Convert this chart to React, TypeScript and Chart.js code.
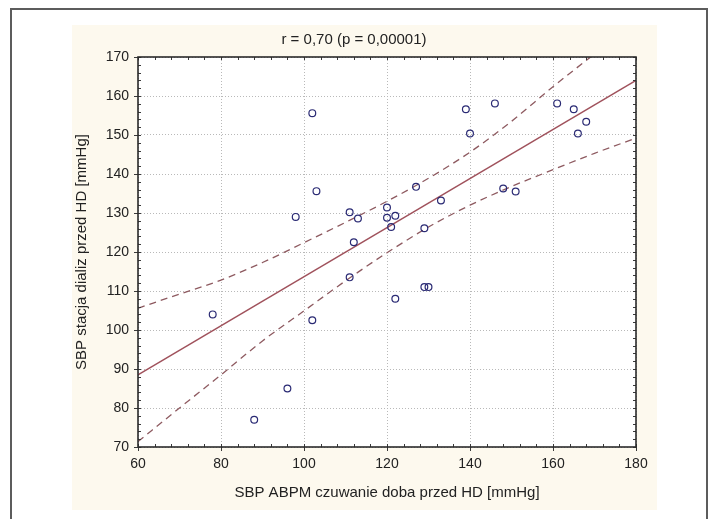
import React, { useEffect, useRef } from "react";
import { Chart, registerables } from "chart.js";

Chart.register(...registerables);

const titleText = "r = 0,70 (p = 0,00001)";
const xAxisTitle = "SBP ABPM czuwanie doba przed HD [mmHg]";
const yAxisTitle = "SBP stacja dializ przed HD [mmHg]";

// Observations
const sbpAbpm = [78, 88, 96, 102, 111, 122, 129, 130, 98, 102, 103, 111, 113, 112, 120, 120, 122, 121, 127, 133, 129, 139, 140, 146, 148, 151, 161, 165, 166, 168];
const sbpStation = [104, 77, 85, 102.5, 113.5, 108, 111, 111, 129, 155.6, 135.6, 130.2, 128.6, 122.5, 131.4, 128.8, 129.3, 126.4, 136.7, 133.2, 126.1, 156.6, 150.4, 158.1, 136.3, 135.5, 158.1, 156.6, 150.4, 153.4];

// Regression line (end points)
const regX = [60, 180];
const regY = [88.5, 164];

// 95% confidence band
const bandX = [60, 70, 80, 90, 100, 110, 120, 130, 140, 150, 160, 170, 180];
const bandUpper = [105.6, 109.2, 112.8, 117.3, 122.4, 127.6, 133.0, 138.9, 145.6, 153.5, 162.4, 170.8, 179.5];
const bandLower = [71.4, 80.0, 88.5, 97.2, 104.9, 112.6, 119.8, 126.4, 132.0, 136.8, 141.1, 145.3, 149.2];

// Axis ticks
const xTicks = [60, 80, 100, 120, 140, 160, 180];
const yTicks = [70, 80, 90, 100, 110, 120, 130, 140, 150, 160, 170];
const xMinorStep = 4;
const yMinorStep = 2;

const FONT = "'Liberation Sans', Arial, Helvetica, sans-serif";
const LINE_COLOR = "#a0525c";
const DASH_COLOR = "#8e5a60";
const POINT_COLOR = "#2a2a74";

const zip = (xs: number[], ys: number[]) => xs.map((x, i) => ({ x, y: ys[i] }));

const bgPlugin = {
  id: "bgPlugin",
  beforeDraw(chart: any) {
    const { ctx, chartArea } = chart;
    ctx.save();
    ctx.fillStyle = "#fdf9ee";
    ctx.fillRect(0, 0, chart.width, chart.height);
    ctx.fillStyle = "#ffffff";
    ctx.fillRect(chartArea.left, chartArea.top, chartArea.right - chartArea.left, chartArea.bottom - chartArea.top);
    ctx.restore();
  },
};

const framePlugin = {
  id: "framePlugin",
  afterDatasetsDraw(chart: any) {
    const { ctx, chartArea } = chart;
    const { left, right, top, bottom } = chartArea;
    const xs = chart.scales.x;
    const ys = chart.scales.y;
    ctx.save();
    ctx.strokeStyle = "#3a3a3a";
    ctx.lineWidth = 1;
    ctx.beginPath();
    for (let v = xTicks[0]; v <= xTicks[xTicks.length - 1]; v += xMinorStep) {
      const px = Math.round(xs.getPixelForValue(v)) + 0.5;
      ctx.moveTo(px, top);
      ctx.lineTo(px, top + 3);
      ctx.moveTo(px, bottom);
      ctx.lineTo(px, bottom - 3);
    }
    for (let v = yTicks[0]; v <= yTicks[yTicks.length - 1]; v += yMinorStep) {
      const py = Math.round(ys.getPixelForValue(v)) + 0.5;
      ctx.moveTo(left, py);
      ctx.lineTo(left + 3, py);
      ctx.moveTo(right, py);
      ctx.lineTo(right - 3, py);
    }
    xTicks.forEach((v) => {
      const px = Math.round(xs.getPixelForValue(v)) + 0.5;
      ctx.moveTo(px, bottom);
      ctx.lineTo(px, bottom + 4);
    });
    yTicks.forEach((v) => {
      const py = Math.round(ys.getPixelForValue(v)) + 0.5;
      ctx.moveTo(left, py);
      ctx.lineTo(left - 4, py);
    });
    ctx.stroke();
    ctx.lineWidth = 1.6;
    ctx.strokeStyle = "#2b2b2b";
    ctx.strokeRect(left, top, right - left, bottom - top);
    ctx.restore();
  },
};

export default function App() {
  const ref = useRef<HTMLCanvasElement>(null);

  useEffect(() => {
    const canvas = ref.current;
    if (!canvas) return;
    const chart = new Chart(canvas, {
      type: "scatter",
      data: {
        datasets: [
          {
            label: "points",
            data: zip(sbpAbpm, sbpStation),
            pointStyle: "circle",
            pointRadius: 3.4,
            pointBorderWidth: 1.2,
            borderColor: POINT_COLOR,
            backgroundColor: "rgba(0,0,0,0)",
            showLine: false,
          },
          {
            label: "regression",
            data: zip(regX, regY),
            showLine: true,
            pointRadius: 0,
            borderColor: LINE_COLOR,
            borderWidth: 1.3,
          },
          {
            label: "upper",
            data: zip(bandX, bandUpper),
            showLine: true,
            pointRadius: 0,
            borderColor: DASH_COLOR,
            borderWidth: 1.3,
            borderDash: [7, 5],
            cubicInterpolationMode: "monotone",
          },
          {
            label: "lower",
            data: zip(bandX, bandLower),
            showLine: true,
            pointRadius: 0,
            borderColor: DASH_COLOR,
            borderWidth: 1.3,
            borderDash: [7, 5],
            cubicInterpolationMode: "monotone",
          },
        ],
      } as any,
      options: {
        animation: false,
        responsive: false,
        devicePixelRatio: 1,
        events: [],
        layout: { padding: { left: 0, right: 21, top: 0, bottom: 0 } },
        plugins: {
          legend: { display: false },
          tooltip: { enabled: false },
          title: {
            display: true,
            text: titleText,
            color: "#222",
            font: { family: FONT, size: 15, weight: "normal" },
            padding: { top: 6, bottom: 8 },
          },
        },
        scales: {
          x: {
            type: "linear",
            min: 60,
            max: 180,
            afterBuildTicks: (s: any) => {
              s.ticks = xTicks.map((v) => ({ value: v }));
            },
            ticks: { color: "#222", font: { family: FONT, size: 14 }, padding: 9 },
            grid: { color: "#b9b9b9", lineWidth: 1, drawTicks: false },
            border: { display: false, dash: [1, 2] },
            title: {
              display: true,
              text: xAxisTitle,
              color: "#222",
              font: { family: FONT, size: 15 },
              padding: { top: 0, bottom: 8 },
            },
            afterFit: (s: any) => {
              s.height = 63;
            },
          },
          y: {
            type: "linear",
            min: 70,
            max: 170,
            afterBuildTicks: (s: any) => {
              s.ticks = yTicks.map((v) => ({ value: v }));
            },
            ticks: { color: "#222", font: { family: FONT, size: 14 }, padding: 9 },
            grid: { color: "#b9b9b9", lineWidth: 1, drawTicks: false },
            border: { display: false, dash: [1, 2] },
            title: {
              display: true,
              text: yAxisTitle,
              color: "#222",
              font: { family: FONT, size: 15 },
              padding: { top: 1, bottom: 0 },
            },
            afterFit: (s: any) => {
              s.width = 66;
            },
          },
        },
      } as any,
      plugins: [bgPlugin, framePlugin],
    });
    return () => chart.destroy();
  }, []);

  return (
    <div
      style={{
        position: "relative",
        marginLeft: 2,
        width: 694,
        height: 520,
        border: "2px solid #5c5c5c",
      }}
    >
      <canvas
        ref={ref}
        width={585}
        height={485}
        style={{ position: "absolute", left: 60, top: 15, width: 585, height: 485 }}
      />
    </div>
  );
}
